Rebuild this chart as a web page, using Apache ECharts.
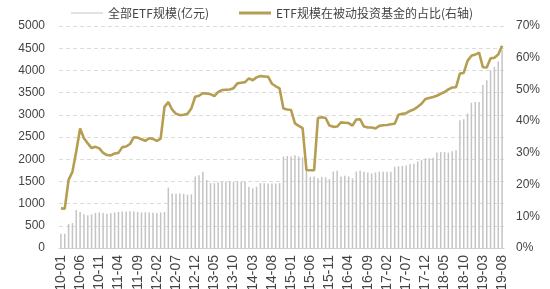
<!DOCTYPE html>
<html>
<head>
<meta charset="utf-8">
<script src="https://cdn.jsdelivr.net/npm/echarts@6/dist/echarts.min.js"></script>
<style>
html,body{margin:0;padding:0;background:#fff;}
#main{width:550px;height:289px;}
</style>
</head>
<body>
<div id="main"></div>
<script>
// Monthly categories 2010-01 .. 2019-08
var startYear = 2010, startMonth = 1, monthCount = 116;
var categories = [];
for (var k = 0; k < monthCount; k++) {
  var m = startMonth - 1 + k;
  var y = startYear + Math.floor(m / 12);
  var mm = (m % 12) + 1;
  categories.push(y + '-' + (mm < 10 ? '0' + mm : mm));
}

var seriesNames = ['全部ETF规模(亿元)', 'ETF规模在被动投资基金的占比(右轴)'];

// 全部ETF规模 (亿元)
var etfSize = [
  320, 320, 540, 560, 855, 810, 760, 740, 760, 790,
  800, 790, 770, 780, 800, 810, 820, 820, 830, 820,
  810, 800, 805, 800, 795, 790, 800, 810, 1360, 1230,
  1220, 1230, 1220, 1200, 1210, 1610, 1640, 1720, 1530, 1460,
  1460, 1480, 1490, 1500, 1500, 1490, 1500, 1490, 1500, 1380,
  1345, 1380, 1460, 1460, 1450, 1450, 1450, 1460, 2060, 2070,
  2060, 2090, 2060, 2040, 1830, 1600, 1610, 1570, 1600, 1590,
  1550, 1720, 1740, 1610, 1630, 1610, 1570, 1720, 1740, 1720,
  1700, 1680, 1700, 1720, 1720, 1720, 1720, 1830, 1840, 1850,
  1860, 1890, 1900, 1950, 1980, 2020, 2020, 2030, 2150, 2160,
  2160, 2150, 2180, 2200, 2880, 2900, 3030, 3270, 3290, 3290,
  3670, 3780, 4000, 4080, 4200, 4460
];

// ETF规模在被动投资基金的占比 (%)
var etfShare = [
  12.5, 12.4, 21.5, 24.0, 30.5, 37.7, 34.6, 33.0, 31.5, 31.9,
  31.4, 30.0, 29.3, 29.2, 29.8, 30.0, 31.8, 32.0, 32.8, 34.9,
  34.8, 34.3, 33.8, 34.6, 34.4, 33.8, 34.5, 44.5, 46.0, 43.6,
  42.3, 41.9, 42.0, 42.3, 44.0, 47.7, 48.0, 48.8, 48.7, 48.5,
  47.9, 49.2, 49.8, 49.9, 50.0, 50.4, 51.9, 52.1, 52.3, 53.5,
  52.9, 53.8, 54.2, 54.1, 54.0, 51.8, 51.0, 50.3, 44.0, 43.7,
  43.5, 39.3, 38.5, 37.8, 24.6, 24.5, 24.5, 41.0, 41.2, 41.0,
  38.6, 38.2, 38.3, 39.6, 39.5, 39.4, 38.6, 40.5, 40.6, 38.3,
  38.0, 38.0, 37.7, 38.5, 38.7, 38.8, 39.0, 39.2, 42.0, 42.3,
  42.5, 43.2, 43.7, 44.5, 45.5, 47.0, 47.3, 47.6, 48.0, 48.6,
  49.2, 50.0, 50.6, 50.7, 55.0, 55.2, 59.0, 60.6, 61.0, 61.6,
  57.0, 56.9, 59.8, 60.0, 61.0, 63.8
];

var leftTicks = {min: 0, max: 5000, interval: 500};
var rightTicks = {min: 0, max: 70, interval: 10};

var chart = echarts.init(document.getElementById('main'), null, {renderer: 'canvas'});
var fontFam = '"Noto Sans CJK SC", "Noto Sans", sans-serif';
var axisFont = 'Arial, "Liberation Sans", sans-serif';

chart.setOption({
  animation: false,
  backgroundColor: '#ffffff',
  legend: [
    {
      data: [seriesNames[0]],
      left: 66, top: 2,
      itemWidth: 32, itemHeight: 1,
      itemGap: 4,
      icon: 'rect',
      textStyle: {fontFamily: fontFam, fontSize: 12, color: '#444'}
    },
    {
      data: [seriesNames[1]],
      left: 234, top: 2,
      itemWidth: 32, itemHeight: 3,
      icon: 'rect',
      textStyle: {fontFamily: fontFam, fontSize: 12, color: '#444'}
    }
  ],
  grid: {left: 59, right: 46, top: 26, bottom: 41, containLabel: false, outerBoundsMode: 'none'},
  xAxis: {
    type: 'category',
    data: categories,
    boundaryGap: true,
    axisLine: {show: true, lineStyle: {color: '#d0d0d0'}},
    axisTick: {show: false},
    axisLabel: {
      interval: 4, rotate: 90, margin: 7,
      fontFamily: axisFont, fontSize: 14, color: '#444',
      formatter: function (v) { return v; }
    },
    splitLine: {show: false}
  },
  yAxis: [
    {
      type: 'value',
      min: leftTicks.min, max: leftTicks.max, interval: leftTicks.interval,
      axisLine: {show: false},
      axisTick: {show: false},
      axisLabel: {fontFamily: axisFont, fontSize: 12, color: '#444', margin: 14,
        formatter: function (v) { return String(v); }},
      splitLine: {show: true, lineStyle: {color: '#dcdcdc', type: [4, 3], width: 1}}
    },
    {
      type: 'value',
      min: rightTicks.min, max: rightTicks.max, interval: rightTicks.interval,
      position: 'right',
      axisLine: {show: false},
      axisTick: {show: false},
      axisLabel: {fontFamily: axisFont, fontSize: 12, color: '#444', margin: 12, formatter: '{value}%'},
      splitLine: {show: false}
    }
  ],
  series: [
    {
      name: seriesNames[0],
      type: 'bar',
      data: etfSize,
      yAxisIndex: 0,
      barWidth: 1.5,
      itemStyle: {color: '#c4c4c4'}
    },
    {
      name: seriesNames[1],
      type: 'line',
      data: etfShare,
      yAxisIndex: 1,
      symbol: 'none',
      smooth: false,
      lineStyle: {color: '#B59E52', width: 2.6},
      itemStyle: {color: '#B59E52'}
    }
  ]
});
</script>
</body>
</html>
